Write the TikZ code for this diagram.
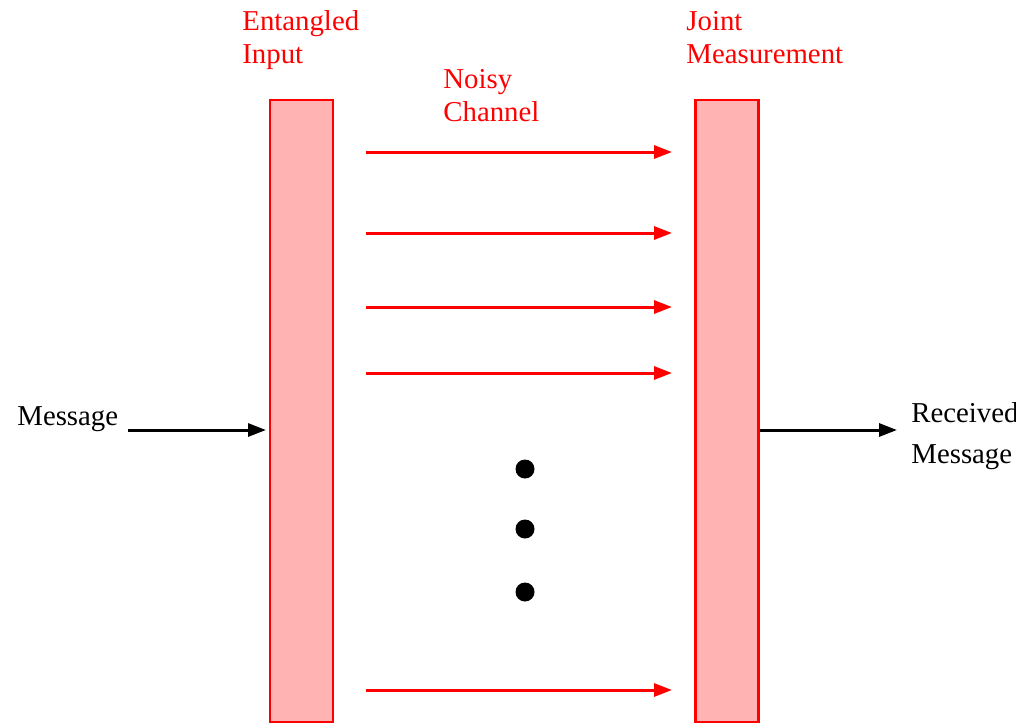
\documentclass[tikz,border=0pt]{standalone}
\usepackage{fontspec}
\setmainfont{Liberation Serif}
\usetikzlibrary{arrows.meta}
\definecolor{barfill}{RGB}{255,179,179}
\begin{document}
\begin{tikzpicture}[x=0.5pt,y=-0.5pt,
  bar/.style={draw=red, fill=barfill, line width=1.4pt, minimum width=31.5pt, minimum height=311pt, inner sep=0pt},
  chan/.style={draw=red, line width=1.5pt, -{Triangle[length=9pt,width=6.5pt]}},
  msg/.style={draw=black, line width=1.5pt, -{Triangle[length=9pt,width=6.5pt]}},
  lbl/.style={font=\fontsize{14.4pt}{16.5pt}\selectfont, inner sep=0pt, anchor=base west, align=left},
  dotnode/.style={circle, fill=black, minimum size=9.5pt, inner sep=0pt}]
\useasboundingbox (0,0) rectangle (1016,724);
% bars
\node[bar] (L) at (301.5,411) {};
\node[bar] (R) at (727,411) {};
% labels (anchored at the baseline of their last line)
\node[lbl, text=red] (entin) at (242,63) {Entangled\\Input};
\node[lbl, text=red] (noisy) at (443,121) {Noisy\\Channel};
\node[lbl, text=red] (joint) at (686,63) {Joint\\Measurement};
\node[lbl] (msgin) at (17,425) {Message};
\node[lbl] (msgout) at (911,463) {Received\\[4pt]Message};
% channel arrows
\foreach \i/\y in {1/152,2/233,3/307,4/373,5/690}{
  \coordinate (s\i) at (366,\y);
  \coordinate (e\i) at (672,\y);
  \draw[chan] (s\i) -- (e\i);
}
% message arrows
\coordinate (min) at (128,430);
\coordinate (mine) at (266,430);
\draw[msg] (min) -- (mine);
\coordinate (mout) at (897,430);
\draw[msg] (R.east |- mout) -- (mout);
% dots
\node[dotnode] (d1) at (525,469) {};
\node[dotnode] (d2) at (525,529) {};
\node[dotnode] (d3) at (525,592) {};
\end{tikzpicture}
\end{document}
